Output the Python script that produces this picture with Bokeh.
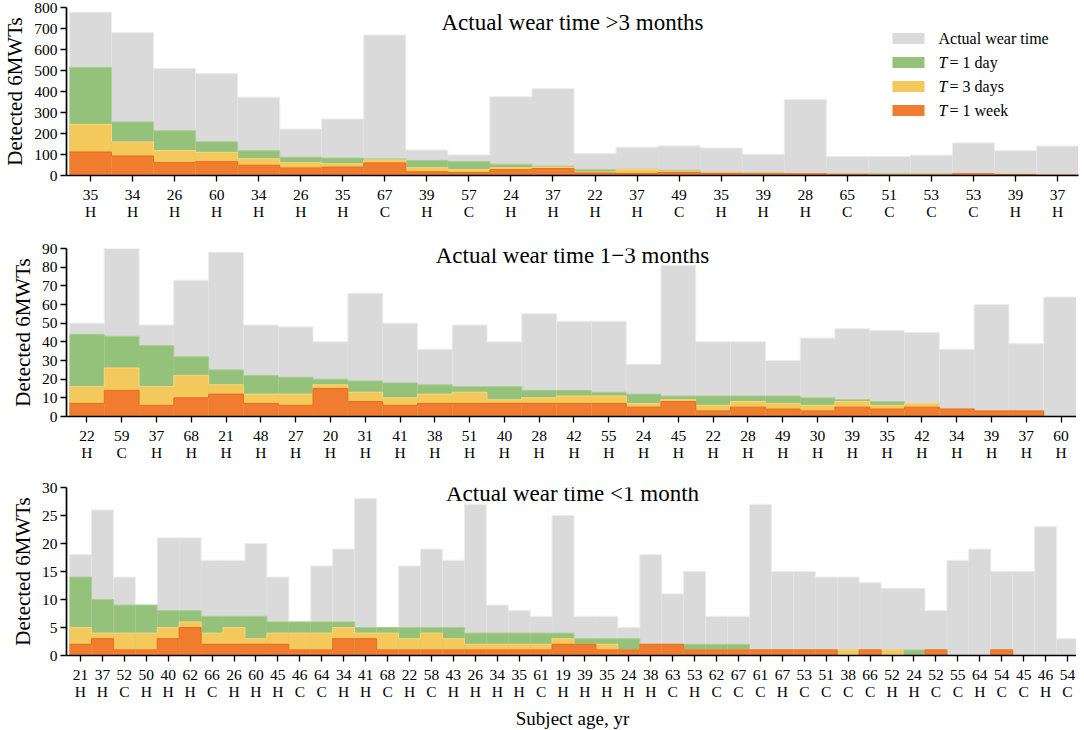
from bokeh.plotting import figure
from bokeh.layouts import column
from bokeh.models import Range1d, FixedTicker, Label, BoxAnnotation
from bokeh.embed import file_html
from bokeh.resources import INLINE

FONT = "Liberation Serif"

# ---------------- data ----------------
# Panel 1: actual wear time > 3 months
ages1 = [35, 34, 26, 60, 34, 26, 35, 67, 39, 57, 24, 37, 22, 37, 49, 35, 39, 28, 65, 51, 53, 53, 39, 37]
groups1 = ["H", "H", "H", "H", "H", "H", "H", "C", "H", "C", "H", "H", "H", "H", "C", "H", "H", "H", "C", "C", "C", "C", "H", "H"]
actual1 = [778, 680, 510, 485, 373, 221, 269, 669, 121, 98, 375, 413, 105, 135, 141, 131, 101, 362, 90, 90, 97, 155, 118, 140]
day1_1 = [515, 255, 213, 161, 118, 87, 83, 79, 72, 67, 54, 45, 28, 30, 25, 15, 13, 10, 6, 10, 8, 10, 6, 4]
days3_1 = [243, 160, 119, 110, 80, 61, 56, 74, 37, 28, 37, 40, 17, 29, 20, 13, 11, 10, 6, 6, 6, 9, 6, 3]
week1_1 = [112, 93, 62, 66, 49, 36, 40, 60, 18, 14, 28, 33, 12, 10, 15, 10, 8, 8, 6, 3, 3, 8, 5, 2]

# Panel 2: actual wear time 1-3 months
ages2 = [22, 59, 37, 68, 21, 48, 27, 20, 31, 41, 38, 51, 40, 28, 42, 55, 24, 45, 22, 28, 49, 30, 39, 35, 42, 34, 39, 37, 60]
groups2 = ["H", "C"] + ["H"] * 27
actual2 = [50, 90, 49, 73, 88, 49, 48, 40, 66, 50, 36, 49, 40, 55, 51, 51, 28, 81, 40, 40, 30, 42, 47, 46, 45, 36, 60, 39, 64]
day1_2 = [44, 43, 38, 32, 25, 22, 21, 20, 19, 18, 17, 16, 16, 14, 14, 13, 12, 11, 11, 11, 11, 10, 9, 8, 7, 4, 3, 3, 0]
days3_2 = [16, 26, 16, 22, 17, 12, 12, 17, 13, 10, 12, 13, 9, 10, 11, 11, 7, 9, 6, 8, 7, 6, 8, 6, 7, 4, 3, 3, 0]
week1_2 = [7, 14, 6, 10, 12, 7, 6, 15, 8, 6, 7, 7, 7, 7, 7, 7, 5, 8, 3, 5, 4, 3, 5, 4, 5, 4, 3, 3, 0]

# Panel 3: actual wear time < 1 month
ages3 = [21, 37, 52, 50, 40, 62, 66, 26, 60, 45, 46, 64, 34, 41, 68, 22, 58, 43, 26, 34, 35, 61, 19,
         39, 35, 24, 38, 63, 53, 62, 67, 61, 67, 53, 51, 38, 66, 52, 24, 52, 55, 64, 54, 45, 46, 54]
groups3 = ["H", "H", "C", "H", "H", "H", "C", "H", "H", "H", "C", "C", "H", "H", "C", "H", "C", "H", "H", "H", "H", "C", "H",
           "H", "H", "H", "H", "C", "H", "C", "C", "C", "H", "C", "C", "C", "C", "H", "H", "C", "C", "H", "C", "C", "H", "C"]
actual3 = [18, 26, 14, 9, 21, 21, 17, 17, 20, 14, 6, 16, 19, 28, 5, 16, 19, 17, 27, 9, 8, 7, 25,
           7, 7, 5, 18, 11, 15, 7, 7, 27, 15, 15, 14, 14, 13, 12, 12, 8, 17, 19, 15, 15, 23, 3]
day1_3 = [14, 10, 9, 9, 8, 8, 7, 7, 7, 6, 6, 6, 6, 5, 5, 5, 5, 5, 4, 4, 4, 4, 4,
          3, 3, 3, 2, 2, 2, 2, 2, 1, 1, 1, 1, 1, 1, 1, 1, 1, 0, 0, 1, 0, 0, 0]
days3_3 = [5, 4, 4, 4, 5, 6, 4, 5, 3, 4, 4, 4, 5, 4, 4, 3, 4, 3, 2, 2, 2, 2, 3,
           2, 2, 1, 2, 2, 1, 1, 1, 1, 1, 1, 1, 1, 1, 1, 0, 1, 0, 0, 1, 0, 0, 0]
week1_3 = [2, 3, 1, 1, 3, 5, 2, 2, 2, 2, 1, 1, 3, 3, 1, 1, 1, 1, 1, 1, 1, 1, 2,
           2, 1, 1, 2, 2, 1, 1, 1, 1, 1, 1, 1, 0, 1, 0, 0, 1, 0, 0, 1, 0, 0, 0]

titles = ["Actual wear time >3 months", "Actual wear time 1\u22123 months", "Actual wear time <1 month"]
legend_labels = ["Actual wear time", "= 1 day", "= 3 days", "= 1 week"]

# ---------------- style ----------------
COLORS = ["#dadada", "#95c27a", "#f4c95c", "#f07c30"]
EDGES = ["#ebebeb", "#a9cf92", "#f8d67f", "#e86d22"]
FW, FH = 1012, 168


def panel(ages, groups, series, ymax, ystep, title, title_dy, top, bottom, xlabel=None, legend=False):
    n = len(ages)
    pad = 3.0 * n / FW
    x0, x1 = 0.5 - pad, n + 0.5
    p = figure(frame_width=FW, frame_height=FH, min_border_left=60, min_border_right=4,
               min_border_top=top, min_border_bottom=bottom,
               x_range=Range1d(x0, x1), y_range=Range1d(0, ymax),
               output_backend="svg", toolbar_location=None)
    p.outline_line_color = None
    p.xgrid.visible = False
    p.ygrid.visible = False
    p.background_fill_color = "white"

    xs = list(range(1, n + 1))
    edges = [i + 0.5 for i in range(0, n + 1)]
    for vals, c, e in zip(series, COLORS, EDGES):
        p.vbar(x=xs, top=vals, width=1.0, bottom=0, fill_color=c, line_color=None)
        p.step(x=edges, y=list(vals) + [vals[-1]], mode="after", line_color=e, line_width=1)

    # axes
    for ax in (p.xaxis[0], p.yaxis[0]):
        ax.axis_line_width = 1.7
        ax.axis_line_color = "black"
        ax.major_tick_line_width = 1.3
        ax.major_tick_out = 6
        ax.major_tick_in = 0
        ax.minor_tick_line_color = None
        ax.major_label_text_font = FONT
        ax.major_label_text_font_size = "15.5px"
        ax.major_label_text_color = "black"
        ax.major_label_standoff = 3
    p.xaxis.major_label_standoff = 4
    p.xaxis.ticker = FixedTicker(ticks=xs)
    p.xaxis.major_label_overrides = {i + 1: f"{a}\n{g}" for i, (a, g) in enumerate(zip(ages, groups))}
    p.xaxis.major_label_text_line_height = 1.05
    p.yaxis.ticker = FixedTicker(ticks=list(range(0, ymax + 1, ystep)))
    p.yaxis.axis_label = "Detected 6MWTs"
    p.yaxis.axis_label_text_font = FONT
    p.yaxis.axis_label_text_font_size = "21px"
    p.yaxis.axis_label_text_font_style = "normal"
    p.yaxis.axis_label_text_color = "black"
    p.yaxis.axis_label_standoff = 4
    if xlabel:
        p.xaxis.axis_label = xlabel
        p.xaxis.axis_label_text_font = FONT
        p.xaxis.axis_label_text_font_size = "19px"
        p.xaxis.axis_label_text_font_style = "normal"
        p.xaxis.axis_label_text_color = "black"
        p.xaxis.axis_label_standoff = 5

    p.add_layout(Label(x=(x0 + x1) / 2, y=FH - title_dy, x_units="data", y_units="screen",
                       text=title, text_align="center", text_baseline="middle",
                       text_font=FONT, text_font_size="23px", text_color="black"))

    if legend:
        row_y = [FH - 31, FH - 55, FH - 79, FH - 103]
        bx0, bx1 = FW - 186, FW - 154
        tx = FW - 140
        for i, (lab, c) in enumerate(zip(legend_labels, COLORS)):
            y = row_y[i]
            p.add_layout(BoxAnnotation(left=bx0, right=bx1, top=y + 5.5, bottom=y - 5.5,
                                       left_units="screen", right_units="screen",
                                       top_units="screen", bottom_units="screen",
                                       fill_color=c, fill_alpha=1.0, line_color=None))
            if i == 0:
                p.add_layout(Label(x=tx, y=y, x_units="screen", y_units="screen", text=lab,
                                   text_baseline="middle", text_font=FONT, text_font_size="16px",
                                   text_color="black"))
            else:
                p.add_layout(Label(x=tx, y=y, x_units="screen", y_units="screen", text="T",
                                   text_baseline="middle", text_font=FONT, text_font_size="16px",
                                   text_font_style="italic", text_color="black"))
                p.add_layout(Label(x=tx + 11, y=y, x_units="screen", y_units="screen", text=lab,
                                   text_baseline="middle", text_font=FONT, text_font_size="16px",
                                   text_color="black"))
    return p


p1 = panel(ages1, groups1, [actual1, day1_1, days3_1, week1_1], 800, 100, titles[0], 15, 7, 50, legend=True)
p2 = panel(ages2, groups2, [actual2, day1_2, days3_2, week1_2], 90, 10, titles[1], 7, 23, 50)
p3 = panel(ages3, groups3, [actual3, day1_3, days3_3, week1_3], 30, 5, titles[2], 6, 21, 66,
           xlabel="Subject age, yr")

layout = column(p1, p2, p3, spacing=0)
open("out.html", "w").write(file_html(layout, INLINE))
